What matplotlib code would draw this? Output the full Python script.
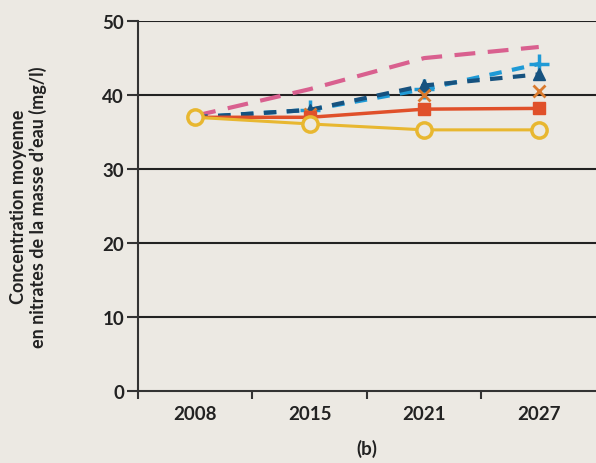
import matplotlib
matplotlib.use('Agg')

import matplotlib.pyplot as plt
import numpy as np

# données
annees = ['2008', '2015', '2021', '2027']
jaune_cercles = [37.0, 36.1, 35.3, 35.3]
rouge_carres = [37.0, 37.0, 38.1, 38.2]
orange_croix = [37.0, 37.4, 40.0, 40.5]
bleu_fonce_triangles = [37.0, 38.0, 41.3, 42.8]
bleu_clair_plus = [37.0, 38.0, 40.8, 44.2]
rose_tirets = [37.2, 40.8, 45.0, 46.5]

bg = '#ece9e3'
plt.rcParams['font.family'] = ['Lato', 'DejaVu Sans']
plt.rcParams['font.weight'] = 'bold'
plt.rcParams['axes.labelweight'] = 'bold'
plt.rcParams['text.color'] = '#222222'
plt.rcParams['axes.labelcolor'] = '#222222'
plt.rcParams['xtick.labelcolor'] = '#222222'
plt.rcParams['ytick.labelcolor'] = '#222222'

fig = plt.figure(figsize=(5.96, 4.64), dpi=100, facecolor=bg)
ax = fig.add_axes([0.2315, 0.155, 0.7685, 0.7974], facecolor=bg)

x = np.arange(len(annees))

ax.plot(x, rose_tirets, color='#d9608f', lw=3, ls=(0, (5, 3)), zorder=3)
ax.plot(x, bleu_clair_plus, color='#1f9ad6', lw=3, ls=(0, (3, 2.5)),
        marker='+', ms=14, mew=2.5, markevery=[1, 2, 3], zorder=4)
ax.plot(x, bleu_fonce_triangles, color='#17527f', lw=3, ls=(0, (3, 2.5)),
        marker='^', ms=9, markevery=[1, 2, 3], zorder=5)
ax.plot(x, orange_croix, color='#d97a2e', lw=0, marker='x', ms=8, mew=2,
        markevery=[1, 2, 3], zorder=5)
ax.plot(x, rouge_carres, color='#e0502a', lw=2.5,
        marker='s', ms=9, markevery=[1, 2, 3], zorder=6)
ax.plot(x, jaune_cercles, color='#e8b730', lw=2.2,
        marker='o', ms=11, mew=2.5, mfc=bg, zorder=7)

ax.set_xlim(-0.5, 3.5)
ax.set_ylim(0, 50)
ax.set_yticks([0, 10, 20, 30, 40, 50])
ax.set_xticks(x)
ax.set_xticklabels(annees)
ax.set_xticks([-0.5, 0.5, 1.5, 2.5], minor=True)
ax.tick_params(axis='x', which='major', length=0, labelsize=13.5, pad=10)
ax.tick_params(axis='x', which='minor', length=6, width=1.5, color='#333333')
ax.tick_params(axis='y', length=8, width=1.5, color='#333333', labelsize=13.5, pad=2)

for v in [10, 20, 30, 40, 50]:
    ax.axhline(v, color='#222222', lw=1.5, zorder=1)

for s in ['top', 'right']:
    ax.spines[s].set_visible(False)
for s in ['left', 'bottom']:
    ax.spines[s].set_color('#333333')
    ax.spines[s].set_linewidth(1.5)

ax.set_ylabel('Concentration moyenne\nen nitrates de la masse d\u2019eau (mg/l)',
              fontsize=13, labelpad=40, linespacing=1.1)
ax.set_xlabel('(b)', fontsize=13.5, labelpad=12)

plt.savefig('out.png', dpi=100, facecolor=bg)
plt.close(fig)
